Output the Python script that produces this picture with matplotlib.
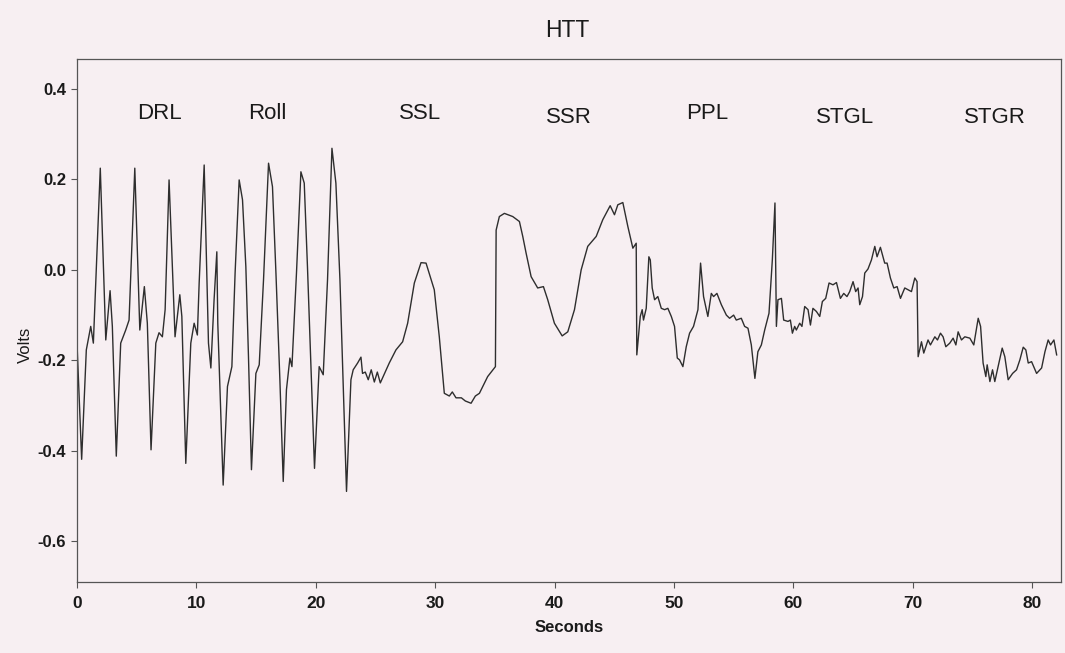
import matplotlib
matplotlib.use("Agg")
import matplotlib.pyplot as plt

# ---- data (seconds, volts) ----
seconds = [
    0.00, 0.39, 0.78, 1.15, 1.37, 1.95, 2.41, 2.77, 2.96, 3.29, 3.66, 4.08, 4.36,
    4.84, 5.26, 5.64, 5.89, 6.20, 6.60, 6.87, 7.15, 7.38, 7.71, 8.21, 8.61, 8.78,
    9.11, 9.53, 9.81, 10.08, 10.23, 10.65, 11.01, 11.21, 11.48, 11.71, 11.79,
    12.24, 12.60, 12.97, 13.24, 13.58, 13.86, 14.14, 14.36, 14.61, 14.98, 15.26,
    15.62, 16.04, 16.37, 16.66, 16.99, 17.27, 17.54, 17.83, 18.00, 18.38, 18.75,
    19.03, 19.30, 19.59, 19.89, 20.28, 20.62, 20.98, 21.35, 21.68, 22.02, 22.30,
    22.57, 22.94, 23.13, 23.50, 23.78, 23.91, 24.14, 24.39, 24.64, 24.90, 25.15,
    25.40, 25.59, 26.15, 26.71, 27.27, 27.69, 28.25, 28.81, 29.23, 29.92, 30.34,
    30.76, 31.18, 31.43, 31.74, 32.19, 32.52, 33.00, 33.36, 33.70, 34.39, 35.04,
    35.10, 35.37, 35.79, 36.49, 37.05, 37.33, 37.61, 38.03, 38.58, 39.06, 39.42,
    39.98, 40.63, 41.10, 41.66, 42.22, 42.77, 43.48, 44.03, 44.65, 45.01, 45.29,
    45.71, 46.13, 46.55, 46.83, 46.88, 47.17, 47.33, 47.44, 47.67, 47.89, 48.01,
    48.17, 48.37, 48.64, 48.93, 49.21, 49.48, 49.77, 50.04, 50.27, 50.46, 50.74,
    51.02, 51.30, 51.63, 52.00, 52.22, 52.47, 52.83, 53.12, 53.31, 53.59, 53.96,
    54.38, 54.65, 54.99, 55.21, 55.63, 55.91, 56.19, 56.47, 56.77, 57.02, 57.31,
    57.59, 57.95, 58.23, 58.45, 58.57, 58.70, 58.99, 59.18, 59.54, 59.74, 59.91,
    60.10, 60.24, 60.52, 60.71, 60.94, 61.22, 61.42, 61.63, 61.92, 62.20, 62.42,
    62.70, 62.98, 63.31, 63.60, 63.93, 64.21, 64.48, 64.71, 64.99, 65.21, 65.41,
    65.55, 65.78, 65.97, 66.24, 66.53, 66.81, 67.00, 67.28, 67.64, 67.84, 68.12,
    68.40, 68.68, 68.96, 69.32, 69.60, 69.88, 70.16, 70.35, 70.44, 70.72, 70.91,
    71.27, 71.47, 71.84, 72.06, 72.31, 72.53, 72.76, 73.09, 73.37, 73.60, 73.79,
    74.07, 74.35, 74.77, 75.10, 75.47, 75.67, 75.88, 76.11, 76.22, 76.45, 76.67,
    76.86, 77.14, 77.48, 77.70, 77.98, 78.35, 78.68, 78.96, 79.24, 79.46, 79.66,
    79.94, 80.36, 80.78, 81.06, 81.33, 81.53, 81.81, 82.04,
]
volts = [
    -0.162, -0.419, -0.177, -0.125, -0.162, 0.225, -0.155, -0.046, -0.125, -0.412,
    -0.162, -0.133, -0.111, 0.225, -0.133, -0.037, -0.118, -0.398, -0.162, -0.139,
    -0.148, -0.088, 0.199, -0.148, -0.055, -0.103, -0.428, -0.162, -0.118, -0.144,
    -0.029, 0.232, -0.162, -0.217, -0.066, 0.040, -0.118,
    -0.476, -0.258, -0.214, -0.007, 0.199, 0.155, 0.007, -0.192, -0.442, -0.229,
    -0.210, -0.022, 0.236, 0.184, -0.007, -0.243, -0.468, -0.265, -0.195, -0.214,
    -0.007, 0.217, 0.192, 0.007, -0.214, -0.439, -0.214, -0.232, -0.022, 0.269,
    0.192, -0.022, -0.258, -0.490, -0.243, -0.221, -0.206, -0.193, -0.229, -0.226,
    -0.243, -0.221, -0.248, -0.226, -0.250, -0.239, -0.206, -0.177, -0.159, -0.118,
    -0.029, 0.016, 0.015, -0.044, -0.148, -0.273, -0.279, -0.270, -0.283, -0.283,
    -0.290, -0.295, -0.279, -0.273, -0.236, -0.214, 0.088, 0.118, 0.125, 0.118,
    0.107, 0.074, 0.037, -0.015, -0.040, -0.037, -0.066, -0.118, -0.146, -0.137,
    -0.088, 0.000, 0.052, 0.074, 0.111, 0.142, 0.122, 0.144, 0.149, 0.096, 0.048,
    0.059, -0.188, -0.103, -0.088, -0.111, -0.085, 0.029, 0.022, -0.040, -0.066,
    -0.059, -0.085, -0.088, -0.085, -0.103, -0.125, -0.195, -0.199, -0.214, -0.170,
    -0.140, -0.125, -0.088, 0.015, -0.059, -0.103, -0.052, -0.059, -0.052, -0.077,
    -0.100, -0.107, -0.100, -0.111, -0.107, -0.125, -0.129, -0.166, -0.240, -0.181,
    -0.166, -0.133, -0.096, 0.022, 0.148, -0.125, -0.066, -0.063, -0.111, -0.114,
    -0.111, -0.140, -0.125, -0.133, -0.118, -0.125, -0.081, -0.088, -0.122, -0.085,
    -0.092, -0.103, -0.070, -0.063, -0.029, -0.033, -0.028, -0.063, -0.052, -0.059,
    -0.048, -0.026, -0.048, -0.040, -0.077, -0.059, -0.007, 0.002, 0.022, 0.052,
    0.029, 0.050, 0.015, 0.015, -0.018, -0.040, -0.037, -0.063, -0.040, -0.044,
    -0.048, -0.018, -0.026, -0.192, -0.159, -0.184, -0.155, -0.166, -0.148, -0.155,
    -0.140, -0.148, -0.170, -0.162, -0.151, -0.166, -0.137, -0.155, -0.148, -0.151,
    -0.166, -0.107, -0.125, -0.206, -0.236, -0.210, -0.247, -0.221, -0.247, -0.214,
    -0.173, -0.192, -0.243, -0.229, -0.221, -0.199, -0.171, -0.177, -0.206, -0.203,
    -0.229, -0.217, -0.181, -0.155, -0.166, -0.155, -0.188,
]

segment_labels = ["DRL", "Roll", "SSL", "SSR", "PPL", "STGL", "STGR"]
segment_x = [6.9, 15.9, 28.7, 41.2, 52.8, 64.3, 76.9]
segment_y = [0.347, 0.347, 0.347, 0.338, 0.347, 0.338, 0.338]

x_ticks = [0, 10, 20, 30, 40, 50, 60, 70, 80]
y_ticks = [-0.6, -0.4, -0.2, 0.0, 0.2, 0.4]
y_tick_labels = ["-0.6", "-0.4", "-0.2", "0.0", "0.2", "0.4"]

BG = "#f7eff2"
INK = "#2e2e2e"
NARROW = ["Liberation Sans Narrow", "Liberation Sans", "DejaVu Sans"]
SANS = ["Liberation Sans", "DejaVu Sans"]

fig = plt.figure(figsize=(10.65, 6.53), dpi=100, facecolor=BG)
ax = fig.add_axes([0.0723, 0.109, 0.9239, 0.801])
ax.set_facecolor(BG)

ax.plot(seconds, volts, color=INK, linewidth=1.0)

ax.set_xlim(0, 82.4)
ax.set_ylim(-0.69, 0.467)

ax.set_xticks(x_ticks)
ax.set_xticklabels([str(t) for t in x_ticks], fontfamily=NARROW,
                   fontweight="bold", fontsize=12.5, color="#1a1a1a")
ax.set_yticks(y_ticks)
ax.set_yticklabels(y_tick_labels, fontfamily=NARROW, fontweight="bold",
                   fontsize=12, color="#1a1a1a")
ax.tick_params(direction="out", length=4, width=0.8, color="#555555", pad=6)
ax.tick_params(axis="y", pad=4)

for s in ax.spines.values():
    s.set_color("#555555")
    s.set_linewidth(0.9)

for lab, lx, ly in zip(segment_labels, segment_x, segment_y):
    ax.text(lx, ly, lab, ha="center", va="center", fontfamily=SANS,
            fontsize=16, color="#1a1a1a")

fig.text(0.533, 0.953, "HTT", ha="center", va="center", fontfamily=SANS,
         fontsize=16.5, color="#1a1a1a")
ax.set_xlabel("Seconds", fontfamily=NARROW, fontweight="bold", fontsize=12,
              color="#1a1a1a", labelpad=7)
ax.set_ylabel("Volts", fontfamily=NARROW, fontsize=12, color="#1a1a1a")
ax.yaxis.set_label_coords(-0.045, 0.453)

fig.savefig("out.png", dpi=100, facecolor=BG)
